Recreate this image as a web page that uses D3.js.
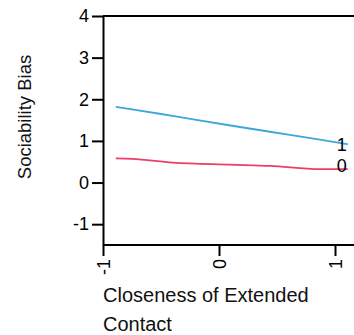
<!DOCTYPE html>
<html>
<head>
<meta charset="utf-8">
<script src="https://cdn.jsdelivr.net/npm/d3@7"></script>
<style>
  html, body { margin: 0; padding: 0; background: #fff; }
  svg { display: block; font-family: "Liberation Sans", Arial, sans-serif; }
</style>
</head>
<body>
<div id="chart"></div>
<script>
// chart values
const xTicks = [-1, 0, 1];
const yTicks = [-1, 0, 1, 2, 3, 4];
const xValues = [-0.89, -0.75, -0.4, 0.1, 0.44, 0.87, 1.11];
const series1 = [1.82, 1.76, 1.60, 1.37, 1.22, 1.03, 0.92];
const series0 = [0.58, 0.57, 0.48, 0.43, 0.40, 0.32, 0.32];
const seriesNames = ["1", "0"];
const seriesColors = ["#3ca6dd", "#ea3f68"];

const width = 354, height = 335;
const plotLeft = 103, plotTop = 16, plotBottom = 245;

const svg = d3.select("#chart").append("svg")
	.attr("width", width)
	.attr("height", height);

const x = d3.scaleLinear().domain([-1, 1]).range([plotLeft, 335]);
const y = d3.scaleLinear().domain([-1.5, 4]).range([plotBottom, plotTop]);

// top frame line
svg.append("line")
	.attr("x1", plotLeft).attr("x2", width + 10)
	.attr("y1", y(4)).attr("y2", y(4))
	.attr("stroke", "#000").attr("stroke-width", 2);

function styleAxis(g) {
	g.select(".domain").attr("stroke", "#000").attr("stroke-width", 2);
	g.selectAll(".tick line").attr("stroke", "#000").attr("stroke-width", 2);
	g.selectAll(".tick text").attr("fill", "#000").style("font-size", "18px");
}

const fmt = d => String(d);

const yAxis = d3.axisLeft(y).tickValues(yTicks).tickFormat(fmt)
	.tickSize(11).tickSizeOuter(0).tickPadding(3);
svg.append("g")
	.attr("transform", "translate(" + plotLeft + ",0)")
	.call(yAxis)
	.call(styleAxis);

const xAxis = d3.axisBottom(x).tickValues(xTicks).tickFormat(fmt)
	.tickSize(11).tickSizeOuter(0);
svg.append("g")
	.attr("transform", "translate(0," + plotBottom + ")")
	.call(xAxis)
	.call(styleAxis)
	.call(g => g.select(".domain").attr("d", "M" + plotLeft + ",0H" + (width + 10)))
	.call(g => g.selectAll(".tick text")
		.attr("transform", "rotate(-90)")
		.attr("text-anchor", "end")
		.attr("x", -14)
		.attr("y", 0)
		.attr("dy", "0.35em"));

// lines
const line = d3.line()
	.x((d, i) => x(xValues[i]))
	.y(d => y(d))
	.curve(d3.curveMonotoneX);

[series1, series0].forEach(function(s, i) {
	svg.append("path")
		.datum(s)
		.attr("fill", "none")
		.attr("stroke", seriesColors[i])
		.attr("stroke-width", 1.8)
		.attr("d", line);

	svg.append("text")
		.attr("x", x(xValues[xValues.length - 1]) - 1)
		.attr("y", y(s[s.length - 1]))
		.attr("dy", i == 0 ? "0.35em" : "0.15em")
		.attr("text-anchor", "end")
		.style("font-size", "18px")
		.attr("fill", "#000")
		.text(seriesNames[i]);
});

// axis titles
svg.append("text")
	.attr("transform", "translate(31,117) rotate(-90)")
	.attr("text-anchor", "middle")
	.style("font-size", "18.5px")
	.attr("fill", "#111")
	.text("Sociability Bias");

svg.append("text")
	.attr("x", plotLeft)
	.attr("y", 302)
	.style("font-size", "20px")
	.attr("fill", "#111")
	.text("Closeness of Extended");

svg.append("text")
	.attr("x", plotLeft)
	.attr("y", 331)
	.style("font-size", "20px")
	.attr("fill", "#111")
	.text("Contact");
</script>
</body>
</html>
